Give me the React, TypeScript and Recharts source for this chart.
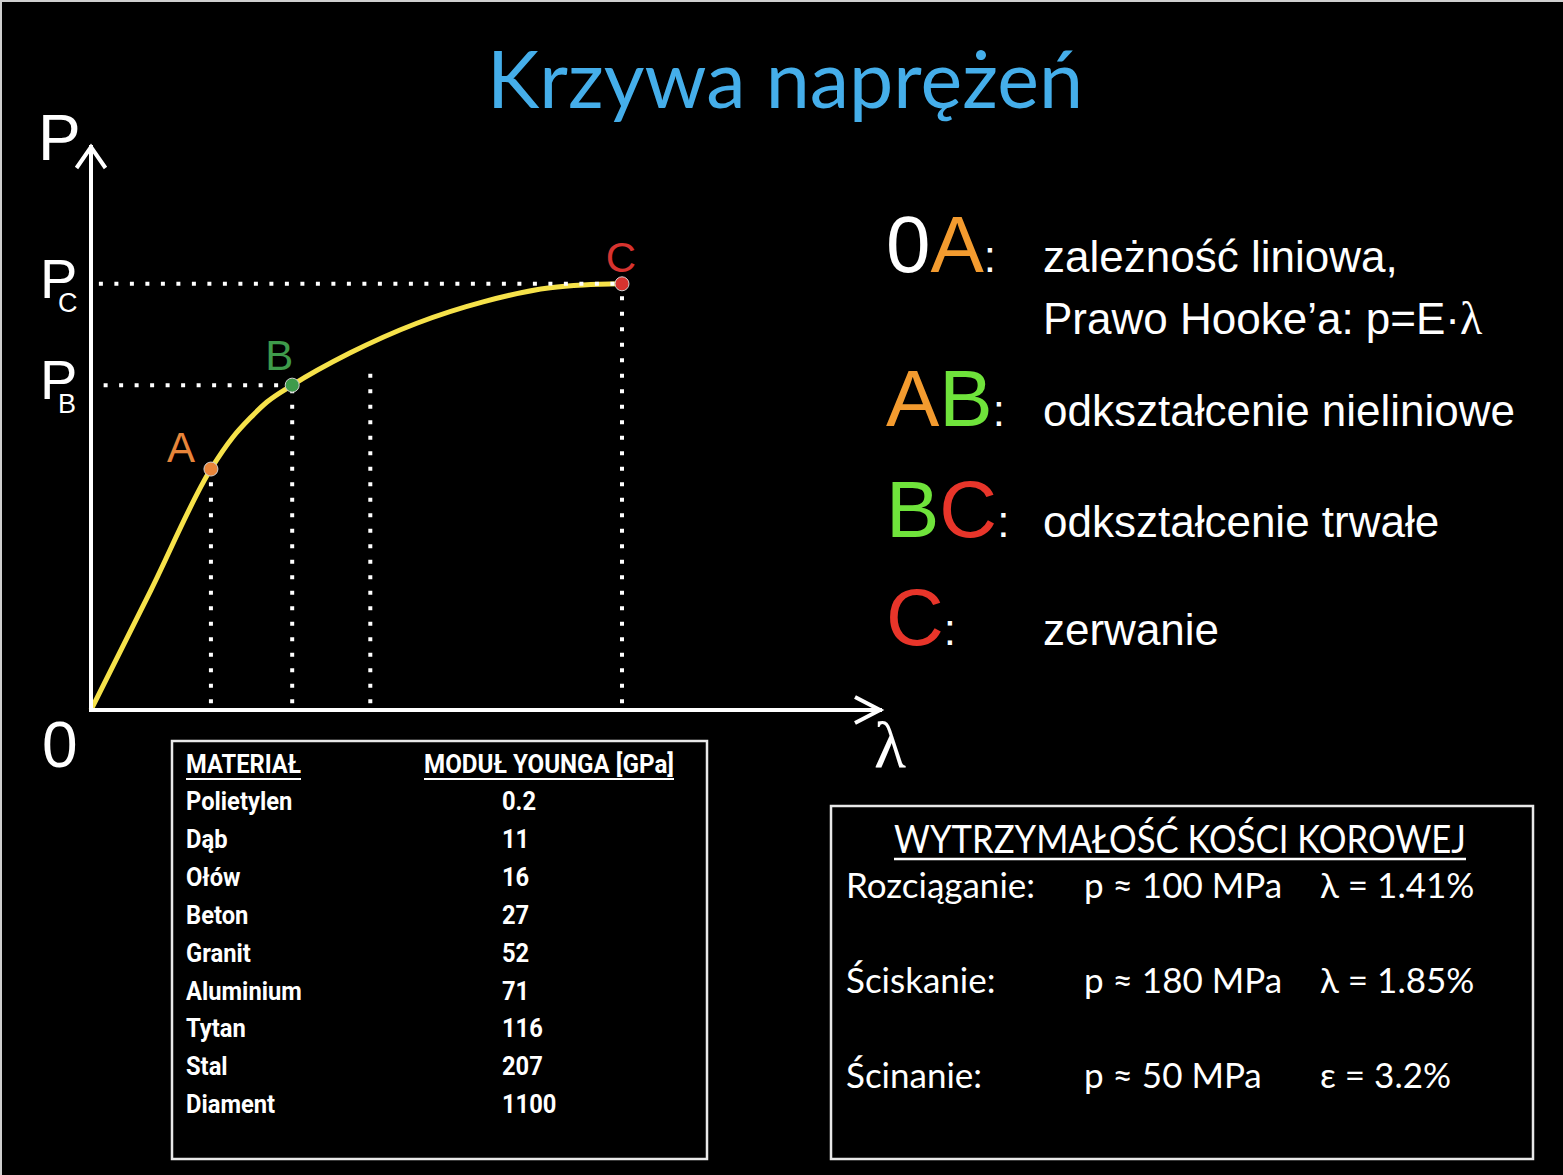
import React from 'react';
import { ComposedChart, Line, Scatter, XAxis, YAxis, ReferenceLine } from 'recharts';

// krzywa naprężenie–odkształcenie (jednostki umowne, osie 0–100)
const strain = [0, 7.6, 15.2, 18.0, 20.2, 22.3, 25.5, 32.8, 41.3, 49.7, 58.2, 62.4, 67.3];
const stress = [0, 21.3, 42.8, 48.5, 51.9, 54.7, 57.7, 63.4, 68.7, 72.5, 75.0, 75.5, 75.7];

// punkty charakterystyczne
const pointNames = ['A', 'B', 'C'];
const pointStrain = [15.2, 25.5, 67.3];
const pointStress = [42.8, 57.7, 75.7];

// dodatkowa pionowa linia pomocnicza
const guideStrain = 35.4;
const guideTop = 61.5;

// legenda odcinków
const stageKeys = [['0', 'A'], ['A', 'B'], ['B', 'C'], ['C']];
const stageText = ['zależność liniowa,', 'odkształcenie nieliniowe', 'odkształcenie trwałe', 'zerwanie'];

// tabela modułów Younga
const materials = ['Polietylen', 'Dąb', 'Ołów', 'Beton', 'Granit', 'Aluminium', 'Tytan', 'Stal', 'Diament'];
const youngModulus = ['0.2', '11', '16', '27', '52', '71', '116', '207', '1100'];

// wytrzymałość kości korowej
const loadCases = ['Rozciąganie:', 'Ściskanie:', 'Ścinanie:'];
const loadStress = ['p ≈ 100 MPa', 'p ≈ 180 MPa', 'p ≈ 50 MPa'];
const loadStrain = ['λ = 1.41%', 'λ = 1.85%', 'ε = 3.2%'];

const curve = strain.map((lam, i) => ({ lam, p: stress[i] }));
const points = pointNames.map((name, i) => ({ name, lam: pointStrain[i], p: pointStress[i] }));

const W = 1563;
const H = 1175;

const dotColors: Record<string, string> = { A: '#E8853A', B: '#3E9B4B', C: '#D7332F' };
const keyColors: Record<string, string> = { '0': '#ffffff', A: '#F39B2F', B: '#6FE33B', C: '#E8352A' };
const labelOffsets: Record<string, [number, number]> = { A: [-30, -7], B: [-13, -15], C: [-1, -12] };

const helv = '"Liberation Sans", Arial, sans-serif';
const serif = '"Liberation Serif", "DejaVu Serif", serif';
const cal = 'Lato, "Open Sans", sans-serif';
const din = 'Roboto, "Liberation Sans", sans-serif';

const dotted = { stroke: '#ffffff', strokeWidth: 4, strokeDasharray: '4 11.5' };

function PTick(props: any) {
  const { x, y, payload } = props;
  const idx = pointStress.indexOf(payload.value);
  const sub = idx >= 0 ? pointNames[idx] : '';
  return (
    <g>
      <text x={x - 51} y={y + 14} fill="#fff" fontSize={56} fontFamily={helv}>P</text>
      <text x={x - 33} y={y + 28} fill="#fff" fontSize={27} fontFamily={helv}>{sub}</text>
    </g>
  );
}

function PointMark(props: any) {
  const { cx, cy, payload } = props;
  const c = dotColors[payload.name];
  const [dx, dy] = labelOffsets[payload.name];
  return (
    <g>
      <circle cx={cx} cy={cy} r={7} fill={c} stroke="#d0d0d0" strokeWidth={1} />
      <text x={cx + dx} y={cy + dy} textAnchor="middle" fill={c} fontSize={42} fontFamily={helv}>
        {payload.name}
      </text>
    </g>
  );
}

function Overlay() {
  const legendBase = [272, 426, 537, 645];
  return (
    <svg width={W} height={H} style={{ position: 'absolute', left: 0, top: 0, pointerEvents: 'none' }}>
      {/* tytuł */}
      <text x={785} y={108} textAnchor="middle" fontSize={80} fill="#45AEEA" fontFamily={cal}
        textLength={596} lengthAdjust="spacingAndGlyphs">Krzywa naprężeń</text>

      {/* opisy osi */}
      <text x={38} y={160} fill="#fff" fontSize={64} fontFamily={helv}>P</text>
      <text x={42} y={767} fill="#fff" fontSize={64} fontFamily={helv}>0</text>
      <text x={874} y={767} fill="#fff" fontSize={66} fontFamily={serif}>λ</text>

      {/* legenda */}
      {stageKeys.map((keys, i) => (
        <g key={i}>
          <text x={886} y={legendBase[i]} fontSize={80} fontFamily={helv}>
            {keys.map((k, j) => <tspan key={j} fill={keyColors[k]}>{k}</tspan>)}
            <tspan fill="#fff" fontSize={44}>:</tspan>
          </text>
          <text x={1043} y={legendBase[i]} fontSize={44} fill="#fff" fontFamily={helv}>{stageText[i]}</text>
        </g>
      ))}
      <text x={1043} y={334} fontSize={44} fill="#fff" fontFamily={helv}>
        Prawo Hooke’a: p=E·<tspan fontFamily={serif} fontSize={46}>λ</tspan>
      </text>

      {/* tabela modułów */}
      <rect x={172} y={741} width={535} height={418} fill="none" stroke="#e8e8e8" strokeWidth={2.5} />
      <g fontFamily={din} fontWeight={700} fill="#fff" fontSize={25}>
        <text x={186} y={773} textLength={115} lengthAdjust="spacingAndGlyphs">MATERIAŁ</text>
        <text x={424} y={773} textLength={250} lengthAdjust="spacingAndGlyphs">MODUŁ YOUNGA [GPa]</text>
        <line x1={186} x2={301} y1={779} y2={779} stroke="#fff" strokeWidth={2} />
        <line x1={424} x2={674} y1={779} y2={779} stroke="#fff" strokeWidth={2} />
        {materials.map((m, i) => (
          <g key={m} transform={`translate(186 ${810 + i * 37.9}) scale(0.95 1)`}>
            <text x={0} y={0}>{m}</text>
            <text x={(502 - 186) / 0.95} y={0}>{youngModulus[i]}</text>
          </g>
        ))}
      </g>

      {/* wytrzymałość kości */}
      <rect x={831} y={806} width={702} height={353} fill="none" stroke="#e8e8e8" strokeWidth={2.5} />
      <g fontFamily={cal} fill="#fff">
        <text x={1180} y={853} textAnchor="middle" fontSize={39} textLength={572} lengthAdjust="spacingAndGlyphs">
          WYTRZYMAŁOŚĆ KOŚCI KOROWEJ
        </text>
        <line x1={894} x2={1466} y1={859} y2={859} stroke="#fff" strokeWidth={2.5} />
        {loadCases.map((c, i) => (
          <g key={c} fontSize={35}>
            <text x={846} y={898 + i * 95}>{c}</text>
            <text x={1084} y={898 + i * 95}>{loadStress[i]}</text>
            <text x={1320} y={898 + i * 95}>{loadStrain[i]}</text>
          </g>
        ))}
      </g>
    </svg>
  );
}

export default function App() {
  const [A, B, C] = points;
  return (
    <div style={{ position: 'absolute', left: 0, top: 0, width: W, height: H, background: '#000', overflow: 'hidden' }}>
      <div style={{ position: 'absolute', left: 0, top: 0, width: W, height: H, borderTop: '2px solid #cfcfcf', borderLeft: '2px solid #cfcfcf', boxSizing: 'border-box' }} />
      <ComposedChart width={W} height={H} margin={{ top: 147, right: W - 880, bottom: H - 710 - 30, left: 91 - 60 }}>
        <defs>
          <marker id="arrowRight" markerUnits="userSpaceOnUse" markerWidth={60} markerHeight={60}
            viewBox="-30 -30 60 60" refX={0} refY={0} orient="0" overflow="visible">
            <path d="M -25 -13 L 0 0 L -25 13" fill="none" stroke="#fff" strokeWidth={4} />
          </marker>
          <marker id="arrowUp" markerUnits="userSpaceOnUse" markerWidth={60} markerHeight={60}
            viewBox="-30 -30 60 60" refX={0} refY={0} orient="0" overflow="visible">
            <path d="M -14.5 21 L 0 0 L 14.5 21" fill="none" stroke="#fff" strokeWidth={4} />
          </marker>
        </defs>
        <XAxis type="number" dataKey="lam" domain={[0, 100]} ticks={[]} tick={false} tickLine={false} height={30}
          axisLine={{ stroke: '#fff', strokeWidth: 4, strokeLinecap: 'square', markerEnd: 'url(#arrowRight)' }} />
        <YAxis type="number" domain={[0, 100]} width={60} ticks={[B.p, C.p]} tick={<PTick />}
          tickLine={false} tickSize={0} tickMargin={0} interval={0}
          axisLine={{ stroke: '#fff', strokeWidth: 4, strokeLinecap: 'square', markerStart: 'url(#arrowUp)' }} />

        <Line data={curve} dataKey="p" type="monotone" stroke="#F6E24A" strokeWidth={5} dot={false}
          activeDot={false} isAnimationActive={false} />

        {/* linie pomocnicze */}
        <ReferenceLine segment={[{ x: 1, y: C.p }, { x: C.lam, y: C.p }]} {...dotted} />
        <ReferenceLine segment={[{ x: 1.6, y: B.p }, { x: B.lam, y: B.p }]} {...dotted} />
        <ReferenceLine segment={[{ x: A.lam, y: 1.2 }, { x: A.lam, y: A.p }]} {...dotted} />
        <ReferenceLine segment={[{ x: B.lam, y: 1.2 }, { x: B.lam, y: B.p }]} {...dotted} />
        <ReferenceLine segment={[{ x: guideStrain, y: 1.2 }, { x: guideStrain, y: guideTop }]} {...dotted} />
        <ReferenceLine segment={[{ x: C.lam, y: 1.2 }, { x: C.lam, y: C.p }]} {...dotted} />

        <Scatter data={points} dataKey="p" shape={<PointMark />} isAnimationActive={false} />
      </ComposedChart>
      <Overlay />
    </div>
  );
}
